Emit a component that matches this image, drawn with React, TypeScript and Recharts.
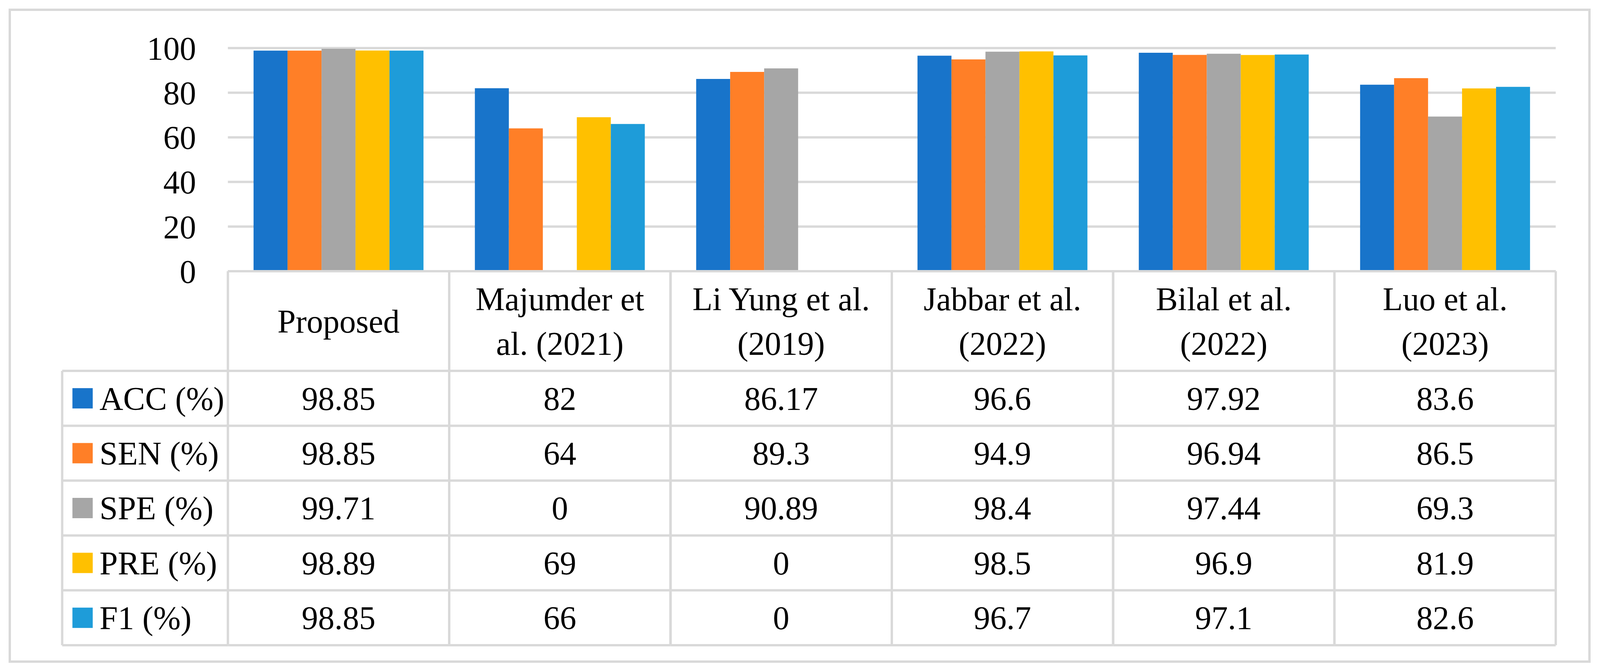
import React from 'react';
import { BarChart, Bar, XAxis, YAxis, CartesianGrid } from 'recharts';

// categories (table header) and the five metric series
const categories = [
  'Proposed',
  'Majumder et al. (2021)',
  'Li Yung et al. (2019)',
  'Jabbar et al. (2022)',
  'Bilal et al. (2022)',
  'Luo et al. (2023)',
];
const headerLines = [
  ['Proposed'],
  ['Majumder et', 'al. (2021)'],
  ['Li Yung et al.', '(2019)'],
  ['Jabbar et al.', '(2022)'],
  ['Bilal et al.', '(2022)'],
  ['Luo et al.', '(2023)'],
];

const accValues = [98.85, 82, 86.17, 96.6, 97.92, 83.6];
const senValues = [98.85, 64, 89.3, 94.9, 96.94, 86.5];
const speValues = [99.71, 0, 90.89, 98.4, 97.44, 69.3];
const preValues = [98.89, 69, 0, 98.5, 96.9, 81.9];
const f1Values = [98.85, 66, 0, 96.7, 97.1, 82.6];

const seriesKeys = ['acc', 'sen', 'spe', 'pre', 'f1'];
const seriesNames = ['ACC (%)', 'SEN (%)', 'SPE (%)', 'PRE (%)', 'F1 (%)'];
const seriesColors = ['#1874CA', '#FF7F27', '#A6A6A6', '#FFC000', '#1E9CD9'];
const seriesValues = [accValues, senValues, speValues, preValues, f1Values];

const yTicks = [0, 20, 40, 60, 80, 100];

const data = categories.map((name, i) => ({
  name,
  acc: accValues[i],
  sen: senValues[i],
  spe: speValues[i],
  pre: preValues[i],
  f1: f1Values[i],
}));

// layout, in reference pixels (x values get scaled to the real viewport width)
const W = 4374;
const H = 1717;
const PLOT_LEFT = 623;
const PLOT_RIGHT = 4253;
const PLOT_TOP = 123;
const PLOT_BOTTOM = 694;
const Y_LABEL_RIGHT = 536;
const X_AXIS_H = 1000;
const HEADER_H = 255;
const ROW_H = 140.4;
const LEGEND_LEFT = 170;
const SWATCH_X = 198;
const LABEL_X = 272;
const LINE = '#D9D9D9';
const LINE_W = 6;
const FONT = '"Liberation Serif", "Times New Roman", serif';
const FONT_SIZE = 84;

if (typeof document !== 'undefined') {
  document.body.style.margin = '0';
  document.body.style.overflow = 'hidden';
  document.documentElement.style.overflow = 'hidden';
}

const vw = typeof window !== 'undefined' && window.innerWidth ? window.innerWidth : W;
const vh = typeof window !== 'undefined' && window.innerHeight ? window.innerHeight : H;
const sx = vw / W;
const sy = vh / H;
const X = (v: number) => v * sx;
const Y = (v: number) => v * sy;

const BAND = (X(PLOT_RIGHT) - X(PLOT_LEFT)) / categories.length;

function TableTick(props: any) {
  const { x, y, payload } = props;
  const idx = categories.indexOf(payload.value);
  const left = x - BAND / 2;
  const right = x + BAND / 2;
  const rowsTop = y + Y(HEADER_H);
  const rowH = Y(ROW_H);
  const bottom = rowsTop + rowH * seriesNames.length;
  const lines = headerLines[idx];
  const lineGap = Y(114);
  const headerMid = y + Y(HEADER_H) / 2;

  return (
    <g>
      <line x1={left} x2={right} y1={y} y2={y} stroke={LINE} strokeWidth={LINE_W} />
      <line x1={left} x2={left} y1={y} y2={bottom} stroke={LINE} strokeWidth={LINE_W} />
      <line x1={right} x2={right} y1={y} y2={bottom} stroke={LINE} strokeWidth={LINE_W} />
      {seriesNames.map((_, r) => (
        <line key={'h' + r} x1={left} x2={right} y1={rowsTop + r * rowH} y2={rowsTop + r * rowH} stroke={LINE} strokeWidth={LINE_W} />
      ))}
      <line x1={left} x2={right} y1={bottom} y2={bottom} stroke={LINE} strokeWidth={LINE_W} />
      {lines.map((t, k) => (
        <text
          key={'t' + k}
          x={x}
          y={headerMid + (k - (lines.length - 1) / 2) * lineGap}
          dy="0.35em"
          textAnchor="middle"
          fontFamily={FONT}
          fontSize={FONT_SIZE}
          fill="#000"
        >
          {t}
        </text>
      ))}
      {seriesValues.map((vals, r) => (
        <text
          key={'v' + r}
          x={x}
          y={rowsTop + (r + 0.5) * rowH}
          dy="0.35em"
          textAnchor="middle"
          fontFamily={FONT}
          fontSize={FONT_SIZE}
          fill="#000"
        >
          {vals[idx]}
        </text>
      ))}
      {idx === 0 && (
        <g>
          <line x1={X(LEGEND_LEFT)} x2={X(LEGEND_LEFT)} y1={rowsTop} y2={bottom} stroke={LINE} strokeWidth={LINE_W} />
          {seriesNames.map((_, r) => (
            <line key={'lh' + r} x1={X(LEGEND_LEFT)} x2={left} y1={rowsTop + r * rowH} y2={rowsTop + r * rowH} stroke={LINE} strokeWidth={LINE_W} />
          ))}
          <line x1={X(LEGEND_LEFT)} x2={left} y1={bottom} y2={bottom} stroke={LINE} strokeWidth={LINE_W} />
          {seriesNames.map((name, r) => {
            const cy = rowsTop + (r + 0.5) * rowH;
            return (
              <g key={'lg' + r}>
                <rect x={X(SWATCH_X)} y={cy - 26} width={52} height={52} fill={seriesColors[r]} />
                <text x={X(LABEL_X)} y={cy} dy="0.35em" fontFamily={FONT} fontSize={FONT_SIZE} fill="#000">
                  {name}
                </text>
              </g>
            );
          })}
        </g>
      )}
    </g>
  );
}

export default function App() {
  const yAxisW = X(PLOT_LEFT) - X(LEGEND_LEFT);
  return (
    <div style={{ position: 'absolute', left: 0, top: 0, width: vw, height: vh, background: '#fff' }}>
      <div
        style={{
          position: 'absolute',
          left: X(24),
          top: Y(22),
          width: X(4348) - X(24),
          height: Y(1696) - Y(22),
          border: `${LINE_W}px solid ${LINE}`,
          boxSizing: 'border-box',
        }}
      />
      <div style={{ position: 'absolute', left: 0, top: 0 }}>
        <BarChart
          width={vw}
          height={vh}
          data={data}
          margin={{
            top: Y(PLOT_TOP),
            right: vw - X(PLOT_RIGHT),
            bottom: vh - Y(PLOT_BOTTOM) - Y(X_AXIS_H),
            left: X(PLOT_LEFT) - yAxisW,
          }}
          barCategoryGap="11.6%"
          barGap={0}
        >
          <CartesianGrid vertical={false} stroke={LINE} strokeWidth={LINE_W} />
          <XAxis
            dataKey="name"
            height={Y(X_AXIS_H)}
            interval={0}
            axisLine={false}
            tickLine={false}
            tickSize={0}
            tickMargin={0}
            tick={<TableTick />}
          />
          <YAxis
            width={yAxisW}
            domain={[0, 100]}
            ticks={yTicks}
            axisLine={false}
            tickLine={false}
            tickSize={0}
            tickMargin={X(PLOT_LEFT) - X(Y_LABEL_RIGHT)}
            tick={{ fill: '#000', fontSize: FONT_SIZE, fontFamily: FONT }}
          />
          {seriesKeys.map((k, i) => (
            <Bar key={k} dataKey={k} name={seriesNames[i]} fill={seriesColors[i]} isAnimationActive={false} />
          ))}
        </BarChart>
      </div>
    </div>
  );
}
